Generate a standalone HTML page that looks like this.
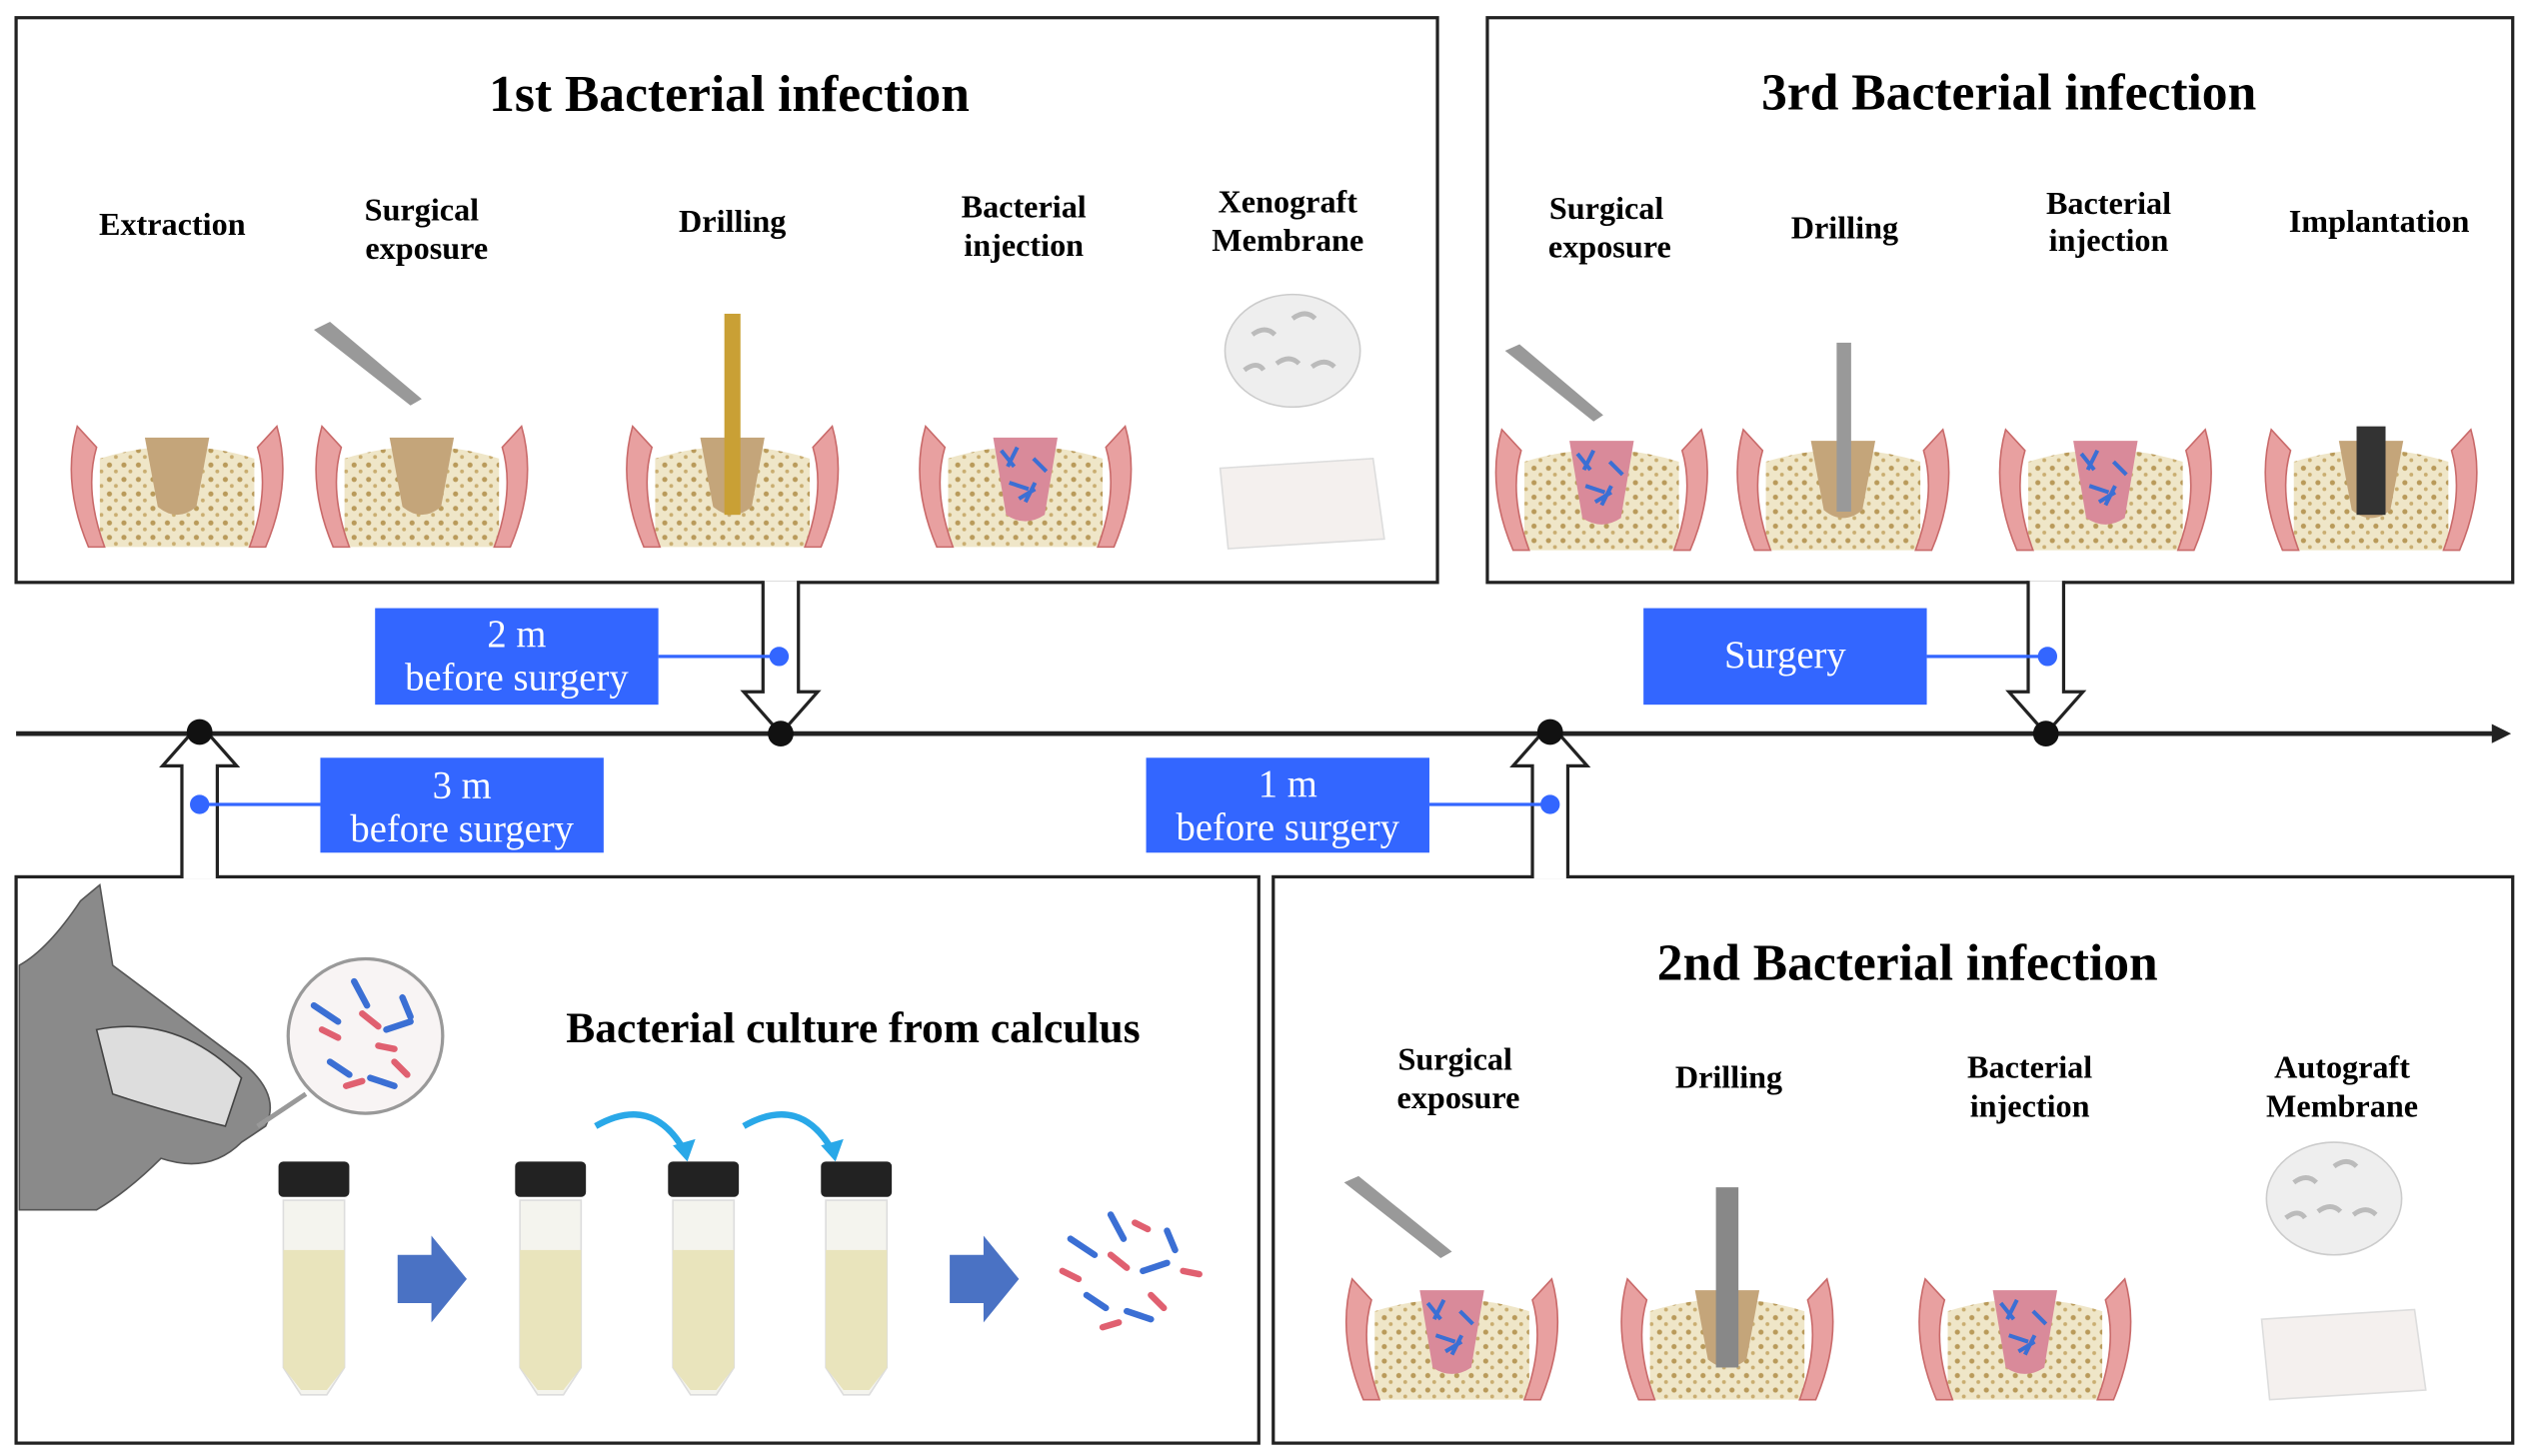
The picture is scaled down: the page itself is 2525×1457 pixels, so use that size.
<!DOCTYPE html>
<html><head><meta charset="utf-8"><style>
html,body{margin:0;padding:0;background:#fff;}
svg{display:block;}
text{font-family:"Liberation Serif",serif;}
.t{font-weight:bold;font-size:32px;text-anchor:middle;}
.l{font-weight:bold;font-size:20px;text-anchor:middle;}
.b{fill:#fff;font-size:24px;text-anchor:middle;}
</style></head><body>
<svg width="2525" height="1457" viewBox="0 0 1568 905" preserveAspectRatio="none" xmlns="http://www.w3.org/2000/svg">
<defs>
<pattern id="dots" width="9" height="9" patternUnits="userSpaceOnUse">
<rect width="9" height="9" fill="#efe6c8"/>
<circle cx="3" cy="3" r="1.6" fill="#b99a5a"/><circle cx="7" cy="7" r="1.2" fill="#c9ad70"/>
</pattern>
<g id="site">
<path d="M-48,0 L-48,-55 Q0,-70 48,-55 L48,0 Z" fill="url(#dots)"/>
<path d="M-55,0 Q-72,-40 -62,-75 L-50,-62 Q-58,-35 -45,0 Z" fill="#e8a0a0" stroke="#c96a6a" stroke-width="1"/>
<path d="M55,0 Q72,-40 62,-75 L50,-62 Q58,-35 45,0 Z" fill="#e8a0a0" stroke="#c96a6a" stroke-width="1"/>
</g>
<g id="sock"><path d="M-20,-68 L20,-68 L12,-25 Q0,-15 -12,-25 Z" fill="#c4a57a"/></g>
<g id="bact"><path d="M-20,-68 L20,-68 L12,-20 Q0,-12 -12,-20 Z" fill="#d98a9a"/>
<path d="M-15,-60 l8,10 M-5,-62 l-6,12 M5,-55 l8,8 M-10,-40 l12,4 M6,-40 l-6,12 M-4,-30 l10,-6" stroke="#3b6fd4" stroke-width="2.5"/></g>
<g id="tube"><rect x="-22" y="0" width="44" height="22" rx="3" fill="#222"/>
<path d="M-19,24 L19,24 L19,128 L8,145 L-8,145 L-19,128 Z" fill="#f4f4ee" stroke="#ddd"/>
<path d="M-19,55 L19,55 L19,128 L8,142 L-8,142 L-19,128 Z" fill="#e9e4bc"/></g>
<g id="memb"><ellipse cx="0" cy="0" rx="42" ry="35" fill="#eee" stroke="#ccc"/>
<path d="M-25,-10 q8,-6 14,0 M0,-20 q8,-6 14,0 M-10,8 q8,-6 14,0 M12,10 q8,-6 14,0 M-30,12 q8,-6 12,0" stroke="#bbb" fill="none" stroke-width="3"/></g>
<g id="sheet"><path d="M-50,-22 L45,-28 L52,22 L-45,28 Z" fill="#f4f0ee" stroke="#ddd"/></g>
</defs>

<g fill="none" stroke="#222" stroke-width="2">
<rect x="10" y="11" width="883" height="351"/>
<rect x="924" y="11" width="637" height="351"/>
<rect x="10" y="545" width="772" height="352"/>
<rect x="791" y="545" width="770" height="352"/>
</g>

<line x1="10" y1="456" x2="1550" y2="456" stroke="#222" stroke-width="3"/>
<path d="M1548,450 L1560,456 L1548,462 Z" fill="#222"/>

<g fill="#fff" stroke="#222" stroke-width="2">
<path d="M474,361 L474,430 L462,430 L485,456 L508,430 L496,430 L496,361"/>
<path d="M1260,361 L1260,430 L1248,430 L1271,456 L1294,430 L1282,430 L1282,361"/>
<path d="M113,546 L113,476 L101,476 L124,450 L147,476 L135,476 L135,546"/>
<path d="M952,546 L952,476 L940,476 L963,450 L986,476 L974,476 L974,546"/>
</g>
<g fill="#111"><circle cx="124" cy="455" r="8"/><circle cx="485" cy="456" r="8"/><circle cx="963" cy="455" r="8"/><circle cx="1271" cy="456" r="8"/></g>

<g stroke="#3366ff" stroke-width="2" fill="#3366ff">
<line x1="409" y1="408" x2="484" y2="408"/><circle cx="484" cy="408" r="5"/>
<line x1="124" y1="500" x2="199" y2="500"/><circle cx="124" cy="500" r="5"/>
<line x1="888" y1="500" x2="963" y2="500"/><circle cx="963" cy="500" r="5"/>
<line x1="1197" y1="408" x2="1272" y2="408"/><circle cx="1272" cy="408" r="5"/>
</g>
<g fill="#3366ff">
<rect x="233" y="378" width="176" height="60"/>
<rect x="199" y="471" width="176" height="59"/>
<rect x="712" y="471" width="176" height="59"/>
<rect x="1021" y="378" width="176" height="60"/>
</g>
<text class="b" x="321" y="402">2 m</text><text class="b" x="321" y="429">before surgery</text>
<text class="b" x="287" y="496">3 m</text><text class="b" x="287" y="523">before surgery</text>
<text class="b" x="800" y="495">1 m</text><text class="b" x="800" y="522">before surgery</text>
<text class="b" x="1109" y="415">Surgery</text>

<text class="t" x="453" y="69">1st Bacterial infection</text>
<text class="t" x="1248" y="68">3rd Bacterial infection</text>
<text class="t" x="1185" y="609">2nd Bacterial infection</text>
<text x="530" y="648" style="font-weight:bold;font-size:27px;text-anchor:middle">Bacterial culture from calculus</text>

<g>
<text class="l" x="107" y="146">Extraction</text>
<text class="l" x="262" y="137">Surgical</text><text class="l" x="265" y="161">exposure</text>
<text class="l" x="455" y="144">Drilling</text>
<text class="l" x="636" y="135">Bacterial</text><text class="l" x="636" y="159">injection</text>
<text class="l" x="800" y="132">Xenograft</text><text class="l" x="800" y="156">Membrane</text>
<text class="l" x="998" y="136">Surgical</text><text class="l" x="1000" y="160">exposure</text>
<text class="l" x="1146" y="148">Drilling</text>
<text class="l" x="1310" y="133">Bacterial</text><text class="l" x="1310" y="156">injection</text>
<text class="l" x="1478" y="144">Implantation</text>
<text class="l" x="904" y="665">Surgical</text><text class="l" x="906" y="689">exposure</text>
<text class="l" x="1074" y="676">Drilling</text>
<text class="l" x="1261" y="670">Bacterial</text><text class="l" x="1261" y="694">injection</text>
<text class="l" x="1455" y="670">Autograft</text><text class="l" x="1455" y="694">Membrane</text>
</g>

<use href="#site" x="110" y="340"/><use href="#sock" x="110" y="340"/>
<use href="#site" x="262" y="340"/><use href="#sock" x="262" y="340"/>
<use href="#site" x="455" y="340"/><use href="#sock" x="455" y="340"/>
<rect x="450" y="195" width="10" height="125" fill="#c9a035"/>
<use href="#site" x="637" y="340"/><use href="#bact" x="637" y="340"/>
<use href="#memb" x="803" y="218"/><use href="#sheet" x="808" y="313"/>
<path d="M195,205 L205,200 L262,248 L255,252 Z" fill="#999"/>

<use href="#site" x="995" y="342"/><use href="#bact" x="995" y="342"/>
<use href="#site" x="1145" y="342"/><use href="#sock" x="1145" y="342"/>
<rect x="1141" y="213" width="9" height="105" fill="#999"/>
<use href="#site" x="1308" y="342"/><use href="#bact" x="1308" y="342"/>
<use href="#site" x="1473" y="342"/><use href="#sock" x="1473" y="342"/>
<rect x="1464" y="265" width="18" height="55" fill="#333"/>
<path d="M935,218 L944,214 L996,258 L990,262 Z" fill="#999"/>

<use href="#site" x="902" y="870"/><use href="#bact" x="902" y="870"/>
<use href="#site" x="1073" y="870"/><use href="#sock" x="1073" y="870"/>
<rect x="1066" y="738" width="14" height="112" fill="#888"/>
<use href="#site" x="1258" y="870"/><use href="#bact" x="1258" y="870"/>
<use href="#memb" x="1450" y="745"/><use href="#sheet" x="1455" y="842"/>
<path d="M835,735 L844,731 L902,778 L895,782 Z" fill="#999"/>

<path d="M12,752 L12,600 Q30,590 50,560 L62,550 L70,600 Q110,630 150,660 Q175,680 165,700 L150,710 Q130,730 100,720 Q80,740 60,752 Z" fill="#8a8a8a" stroke="#555"/>
<path d="M60,640 Q110,630 150,670 L140,700 Q100,690 70,680 Z" fill="#ddd" stroke="#444"/>
<circle cx="227" cy="644" r="48" fill="#f8f4f4" stroke="#999" stroke-width="2"/>
<g stroke-width="4" stroke-linecap="round">
<path d="M195,625 l15,10 M220,610 l8,15 M240,640 l15,-5 M205,660 l12,8 M230,670 l15,5 M250,620 l5,12" stroke="#3b6fd4"/>
<path d="M200,640 l10,5 M225,630 l10,8 M245,660 l8,8 M215,675 l10,-3 M235,650 l10,2" stroke="#e06070"/>
</g>
<line x1="190" y1="680" x2="160" y2="700" stroke="#999" stroke-width="3"/>

<use href="#tube" x="195" y="722"/>
<use href="#tube" x="342" y="722"/>
<use href="#tube" x="437" y="722"/>
<use href="#tube" x="532" y="722"/>
<path d="M247,780 L268,780 L268,768 L290,795 L268,822 L268,810 L247,810 Z" fill="#4a72c4"/>
<path d="M590,780 L611,780 L611,768 L633,795 L611,822 L611,810 L590,810 Z" fill="#4a72c4"/>
<path d="M370,700 Q405,680 425,715" stroke="#29a8e8" stroke-width="4" fill="none"/><path d="M418,712 L427,722 L432,708 Z" fill="#29a8e8"/>
<path d="M462,700 Q497,680 517,715" stroke="#29a8e8" stroke-width="4" fill="none"/><path d="M510,712 L519,722 L524,708 Z" fill="#29a8e8"/>
<g stroke-width="4" stroke-linecap="round">
<path d="M665,770 l15,10 M690,755 l8,15 M710,790 l15,-5 M675,805 l12,8 M700,815 l15,5 M725,765 l5,12" stroke="#3b6fd4"/>
<path d="M660,790 l10,5 M690,780 l10,8 M715,805 l8,8 M685,825 l10,-3 M735,790 l10,2 M705,760 l8,4" stroke="#e06070"/>
</g>
</svg>
</body></html>
